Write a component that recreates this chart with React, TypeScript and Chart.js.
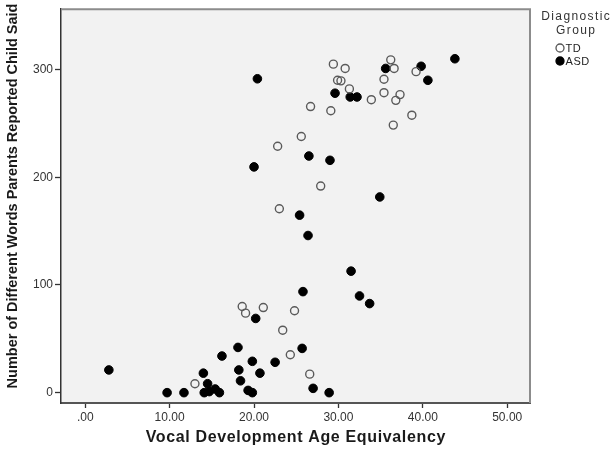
import React, { useEffect, useRef } from "react";
import { Chart, registerables } from "chart.js";

Chart.register(...registerables);

const tdX = [29.4, 30.8, 36.2, 36.6, 39.2, 29.9, 30.3, 31.3, 35.4, 33.9, 35.4, 37.3, 36.8, 26.7, 29.1, 38.7, 36.5, 25.6, 22.8, 27.9, 23.0, 18.6, 19.0, 21.1, 24.8, 23.4, 24.3, 26.6, 13.0];
const tdY = [305, 301, 309, 301, 298, 290, 289.5, 282, 291, 272, 278.5, 276.7, 271.4, 265.6, 261.7, 257.6, 248.4, 237.8, 228.8, 191.8, 170.7, 80, 73.8, 79, 76, 58, 35.2, 17.2, 8.3];

const asdX = [35.6, 39.8, 43.8, 40.6, 29.6, 31.4, 32.2, 20.4, 20.0, 26.5, 29.0, 34.9, 25.4, 26.4, 31.5, 25.8, 32.5, 33.7, 20.2, 25.7, 18.1, 16.2, 22.5, 19.8, 2.8, 14.0, 18.2, 20.7, 18.4, 14.5, 9.7, 11.7, 14.1, 14.7, 15.4, 15.9, 19.3, 19.8, 27.0, 28.9];
const asdY = [301, 303, 310, 290, 278, 274.5, 274.5, 291.4, 209.6, 219.7, 215.7, 181.7, 164.8, 145.9, 112.8, 93.8, 89.8, 82.7, 68.9, 41.1, 42, 34, 28.2, 29.1, 21.1, 18.1, 21.1, 18.1, 11, 8.3, 0, 0, 0, 1, 3.4, 0, 2.1, 0, 4, 0];

const xTicks = [0, 10, 20, 30, 40, 50];
const xTickLabels = [".00", "10.00", "20.00", "30.00", "40.00", "50.00"];
const yTicks = [0, 100, 200, 300];
const yTickLabels = ["0", "100", "200", "300"];

const seriesNames = ["TD", "ASD"];
const legendTitle = ["Diagnostic", "Group"];
const xTitle = "Vocal Development Age Equivalency";
const yTitle = "Number of Different Words Parents Reported Child Said";

const FONT = "'Liberation Sans', Arial, sans-serif";

export default function App() {
  const ref = useRef<HTMLCanvasElement | null>(null);

  useEffect(() => {
    if (!ref.current) return;
    const td = tdX.map((x, i) => ({ x, y: tdY[i] }));
    const asd = asdX.map((x, i) => ({ x, y: asdY[i] }));

    const spacedText = (ctx: any, text: string, x: number, y: number, spacing: number) => {
      ctx.letterSpacing = `${spacing}px`;
      const w = ctx.measureText(text).width - spacing;
      const align = ctx.textAlign;
      ctx.textAlign = "left";
      ctx.fillText(text, x - w / 2, y);
      ctx.textAlign = align;
      ctx.letterSpacing = "0px";
    };

    const framePlugin = {
      id: "frame",
      beforeDraw(chart: any) {
        const { ctx, chartArea: a } = chart;
        ctx.save();
        ctx.fillStyle = "#f2f2f2";
        ctx.fillRect(a.left, a.top, a.right - a.left, a.bottom - a.top);
        ctx.restore();
      },
      afterDraw(chart: any) {
        const { ctx, chartArea: a } = chart;
        ctx.save();
        ctx.strokeStyle = "#8c8c8c";
        ctx.lineWidth = 2;
        ctx.beginPath();
        ctx.moveTo(a.left, a.top);
        ctx.lineTo(a.right, a.top);
        ctx.lineTo(a.right, a.bottom);
        ctx.stroke();

        // axis titles
        ctx.fillStyle = "#1a1a1a";
        ctx.textBaseline = "middle";
        ctx.font = `bold 16px ${FONT}`;
        spacedText(ctx, xTitle, (a.left + a.right) / 2, 438, 0.65);
        ctx.save();
        ctx.translate(12.5, 196);
        ctx.rotate(-Math.PI / 2);
        ctx.font = `bold 14.5px ${FONT}`;
        spacedText(ctx, yTitle, 0, 0, 0);
        ctx.restore();

        // legend
        const cx = 575.5;
        ctx.fillStyle = "#333";
        ctx.font = `12px ${FONT}`;
        ctx.textBaseline = "middle";
        spacedText(ctx, legendTitle[0], cx, 17, 1.4);
        spacedText(ctx, legendTitle[1], cx, 30.5, 1.4);
        ctx.textAlign = "left";
        ctx.font = `11px ${FONT}`;
        const items = [
          { y: 48, fill: "rgba(0,0,0,0)", stroke: "#555" },
          { y: 61, fill: "#000", stroke: "#000" },
        ];
        items.forEach((it, i) => {
          ctx.beginPath();
          ctx.arc(560, it.y, 4, 0, Math.PI * 2);
          ctx.fillStyle = it.fill;
          ctx.fill();
          ctx.strokeStyle = it.stroke;
          ctx.lineWidth = 1.3;
          ctx.stroke();
          ctx.fillStyle = "#222";
          ctx.letterSpacing = "0.6px";
          ctx.fillText(seriesNames[i], 565.5, it.y + 0.5);
          ctx.letterSpacing = "0px";
        });
        ctx.restore();
      },
    };

    const chart = new Chart(ref.current, {
      type: "scatter",
      data: {
        datasets: [
          {
            label: seriesNames[0],
            data: td,
            pointRadius: 4,
            pointBackgroundColor: "rgba(0,0,0,0)",
            pointBorderColor: "#5a5a5a",
            pointBorderWidth: 1.4,
          },
          {
            label: seriesNames[1],
            data: asd,
            pointRadius: 4.3,
            pointBackgroundColor: "#000",
            pointBorderColor: "#000",
            pointBorderWidth: 1,
          },
        ],
      },
      options: {
        animation: false,
        responsive: false,
        devicePixelRatio: 1,
        layout: { padding: { top: 5, right: 84, left: 0, bottom: 0 } },
        plugins: {
          legend: { display: false },
          tooltip: { enabled: false },
        },
        scales: {
          x: {
            type: "linear",
            min: -2.87,
            max: 52.7,
            afterFit(scale: any) {
              scale.height = 48;
            },
            afterBuildTicks(scale: any) {
              scale.ticks = xTicks.map((v) => ({ value: v }));
            },
            ticks: {
              color: "#333",
              font: { family: FONT, size: 12 },
              padding: 2,
              maxRotation: 0,
              autoSkip: false,
              callback: (_v: any, i: number) => xTickLabels[i],
            },
            grid: { drawOnChartArea: false, drawTicks: true, tickLength: 5, color: "#333", tickWidth: 1.3 },
            border: { display: true, color: "#555", width: 2 },
            title: { display: false },
          },
          y: {
            type: "linear",
            min: -9.6,
            max: 356,
            afterFit(scale: any) {
              scale.width = 61;
            },
            afterBuildTicks(scale: any) {
              scale.ticks = yTicks.map((v) => ({ value: v }));
            },
            ticks: {
              color: "#333",
              font: { family: FONT, size: 12 },
              padding: 2,
              autoSkip: false,
              callback: (_v: any, i: number) => yTickLabels[i],
            },
            grid: { drawOnChartArea: false, drawTicks: true, tickLength: 6, color: "#333", tickWidth: 1.3 },
            border: { display: true, color: "#333", width: 1.5 },
            title: { display: false },
          },
        },
      },
      plugins: [framePlugin],
    });
    return () => chart.destroy();
  }, []);

  return (
    <div style={{ position: "fixed", left: 0, top: 0, width: 614, height: 451, background: "#fff" }}>
      <canvas ref={ref} width={614} height={451} style={{ width: 614, height: 451, display: "block" }} />
    </div>
  );
}
